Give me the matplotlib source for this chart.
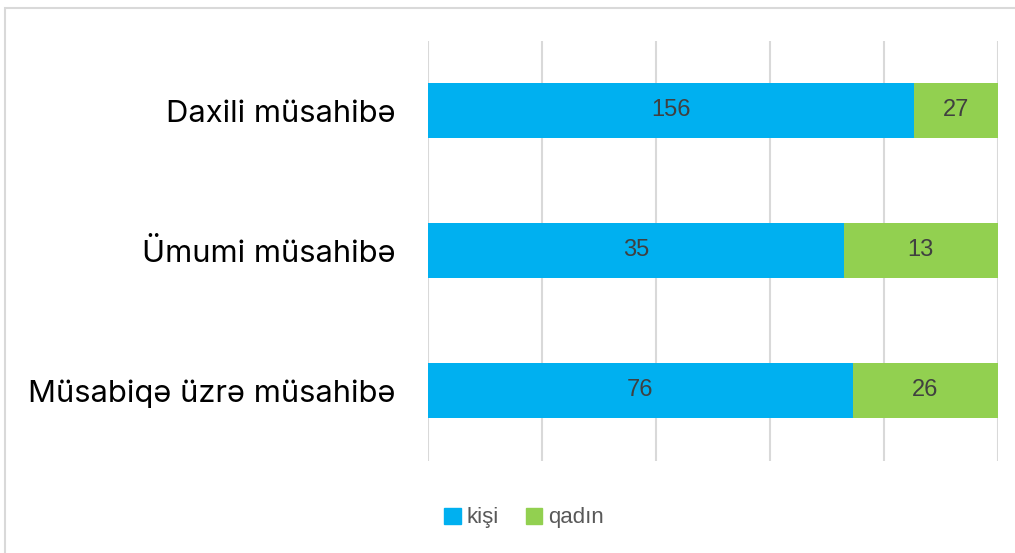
import matplotlib
matplotlib.use("Agg")
import matplotlib.pyplot as plt
from matplotlib.patches import Rectangle, Patch

categories = ["Daxili müsahibə", "Ümumi müsahibə", "Müsabiqə üzrə müsahibə"]
kisi = [156, 35, 76]
qadin = [27, 13, 26]
series_names = ["kişi", "qadın"]
colors = ["#00B0F0", "#92D050"]

plt.rcParams['font.family'] = ['Inter', 'DejaVu Sans']

fig = plt.figure(figsize=(10.15, 5.53), dpi=100)
# outer chart border
fig.patches.append(Rectangle((5/1015, -0.05), 1.1, 1 - 8/553 + 0.05, transform=fig.transFigure,
                             fill=False, edgecolor="#D9D9D9", linewidth=1.5, zorder=0))

ax = fig.add_axes([428/1015, (553-460.5)/553, 570/1015, 420/553])
ypos = list(range(len(categories)))[::-1]
tot = [a + b for a, b in zip(kisi, qadin)]
pk = [a / t for a, t in zip(kisi, tot)]
pq = [b / t for b, t in zip(qadin, tot)]
h = 55/140
b1 = ax.barh(ypos, pk, height=h, color=colors[0], zorder=3, label=series_names[0])
b2 = ax.barh(ypos, pq, left=pk, height=h, color=colors[1], zorder=3, label=series_names[1])
lab_font = ['Liberation Sans', 'DejaVu Sans']
for rect, v in zip(b1, kisi):
    ax.text(rect.get_x() + rect.get_width()/2, rect.get_y() + rect.get_height()/2, str(v),
            ha="center", va="center", fontsize=17, color="#404040", zorder=4, family=lab_font)
for rect, v in zip(b2, qadin):
    ax.text(rect.get_x() + rect.get_width()/2, rect.get_y() + rect.get_height()/2, str(v),
            ha="center", va="center", fontsize=17, color="#404040", zorder=4, family=lab_font)

ax.set_xlim(0, 1)
ax.set_ylim(-0.5, 2.5)
ax.set_xticks([0, 0.2, 0.4, 0.6, 0.8, 1.0])
ax.set_xticklabels([])
ax.tick_params(axis="x", length=0)
ax.grid(axis="x", color="#D9D9D9", linewidth=1.5, zorder=0)
ax.set_yticks(ypos)
ax.set_yticklabels(categories, fontsize=22.3, color="#000000")
ax.tick_params(axis="y", length=0, pad=23.5)
for s in ax.spines.values():
    s.set_visible(False)

handles = [Patch(color=colors[0]), Patch(color=colors[1])]
fig.legend(handles, series_names, loc="center", bbox_to_anchor=(524/1015, 1 - 518/553),
           ncol=2, frameon=False, handlelength=0.75, handleheight=0.75,
           handletextpad=0.25, columnspacing=1.2, labelcolor="#595959",
           prop={'family': ['Liberation Sans', 'DejaVu Sans'], 'size': 16})

fig.savefig("out.png", dpi=100)
